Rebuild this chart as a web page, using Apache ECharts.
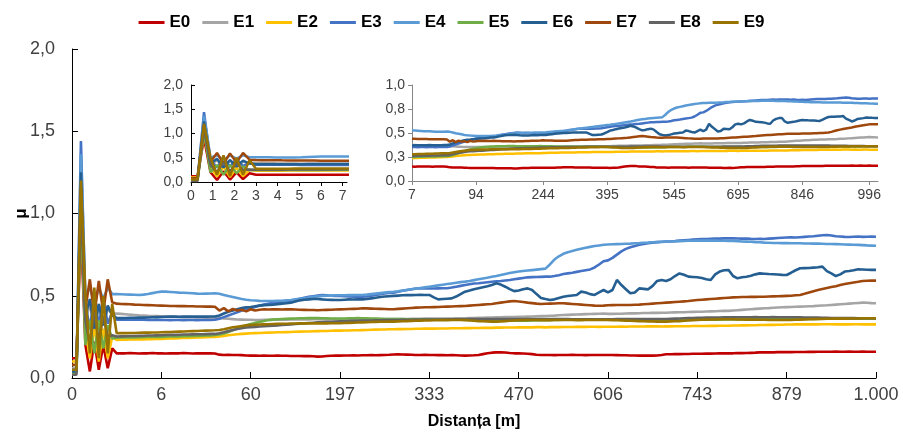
<!DOCTYPE html>
<html><head><meta charset="utf-8">
<script src="https://cdn.jsdelivr.net/npm/echarts@6/dist/echarts.min.js"></script>
<style>html,body{margin:0;padding:0;background:#fff}#c{width:903px;height:438px}</style>
</head><body><div id="c"></div>
<script>
const seriesNames = ['E0','E1','E2','E3','E4','E5','E6','E7','E8','E9'];
const colors = ['#C00000','#A5A5A5','#FFC000','#4472C4','#5B9BD5','#70AD47','#255E91','#9E480E','#636363','#997300'];
const mainTickLabels = ['0','6','60','197','333','470','606','743','879','1.000'];
const insetTickLabels = ['7','94','244','395','545','695','846','996'];
const insetTickIdx = [0,22,45,67,90,112,134,157];
const earlyDist = [0,0.3,0.6,0.9,1.2,1.5,1.8,2.1,2.4,2.7,3.0,3.3,3.6,3.9,4.2,4.5,4.8,5.1,5.4,5.7,6.0,8.7];

const E0 = [0.12,0.12,0.90,0.20,0.04,0.22,0.05,0.20,0.06,0.18,
0.15,0.15,0.15,0.151,0.15,0.149,0.15,0.15,0.151,0.15,
0.15,0.149,0.15,0.15,0.15,0.151,0.15,0.149,0.15,0.15,
0.15,0.15,0.149,0.142,0.14,0.141,0.14,0.14,0.139,0.137,
0.136,0.136,0.135,0.136,0.135,0.135,0.136,0.135,0.135,0.134,
0.134,0.134,0.133,0.134,0.132,0.13,0.131,0.134,0.135,0.136,
0.136,0.137,0.137,0.138,0.137,0.138,0.138,0.139,0.138,0.139,
0.14,0.141,0.143,0.144,0.143,0.142,0.141,0.14,0.14,0.141,
0.14,0.14,0.139,0.139,0.138,0.139,0.138,0.137,0.136,0.137,
0.138,0.14,0.145,0.15,0.154,0.156,0.156,0.155,0.152,0.15,
0.15,0.149,0.147,0.145,0.141,0.14,0.14,0.14,0.139,0.14,
0.14,0.14,0.141,0.14,0.14,0.139,0.14,0.14,0.14,0.14,
0.14,0.14,0.139,0.138,0.138,0.137,0.137,0.136,0.136,0.137,
0.136,0.137,0.14,0.144,0.144,0.145,0.145,0.146,0.146,0.147,
0.147,0.147,0.148,0.148,0.149,0.15,0.15,0.15,0.15,0.151,
0.151,0.152,0.153,0.154,0.156,0.156,0.156,0.156,0.157,0.157,
0.157,0.157,0.158,0.158,0.158,0.159,0.159,0.16,0.16,0.16,
0.16,0.161,0.16,0.16,0.161,0.16,0.16,0.161,0.16,0.16,0.16];

const E1 = [0.06,0.06,1.10,0.35,0.45,0.30,0.45,0.33,0.42,0.39,
0.392,0.39,0.388,0.385,0.383,0.381,0.38,0.378,0.377,0.376,
0.375,0.374,0.373,0.372,0.371,0.37,0.37,0.369,0.368,0.368,
0.367,0.366,0.366,0.365,0.362,0.36,0.358,0.356,0.355,0.354,
0.354,0.353,0.353,0.354,0.354,0.355,0.355,0.354,0.355,0.356,
0.356,0.356,0.357,0.356,0.357,0.357,0.358,0.357,0.357,0.358,
0.357,0.357,0.356,0.357,0.357,0.358,0.357,0.357,0.358,0.358,
0.358,0.358,0.358,0.359,0.359,0.359,0.36,0.36,0.36,0.361,
0.361,0.361,0.362,0.362,0.362,0.362,0.363,0.363,0.363,0.364,
0.365,0.366,0.366,0.367,0.368,0.369,0.369,0.37,0.37,0.371,
0.372,0.372,0.373,0.374,0.375,0.376,0.377,0.378,0.379,0.381,
0.383,0.384,0.385,0.386,0.387,0.388,0.389,0.39,0.391,0.392,
0.39,0.39,0.391,0.391,0.392,0.393,0.393,0.394,0.395,0.395,
0.396,0.396,0.397,0.397,0.398,0.399,0.4,0.4,0.401,0.402,
0.403,0.403,0.404,0.405,0.406,0.407,0.408,0.408,0.41,0.412,
0.414,0.416,0.418,0.42,0.422,0.424,0.425,0.427,0.429,0.43,
0.431,0.432,0.433,0.434,0.435,0.436,0.437,0.439,0.441,0.442,
0.444,0.446,0.448,0.45,0.452,0.454,0.456,0.458,0.457,0.455,0.454];

const E2 = [0.10,0.10,1.00,0.30,0.12,0.32,0.10,0.30,0.12,0.25,
0.232,0.233,0.233,0.234,0.234,0.235,0.235,0.236,0.236,0.237,
0.238,0.239,0.24,0.241,0.242,0.243,0.244,0.245,0.246,0.247,
0.248,0.249,0.25,0.252,0.256,0.26,0.263,0.266,0.268,0.27,
0.272,0.273,0.274,0.275,0.276,0.277,0.278,0.278,0.279,0.28,
0.281,0.282,0.283,0.283,0.284,0.285,0.286,0.286,0.287,0.288,
0.288,0.289,0.289,0.29,0.29,0.291,0.292,0.293,0.294,0.295,
0.295,0.296,0.296,0.297,0.297,0.298,0.298,0.299,0.299,0.3,
0.3,0.3,0.301,0.301,0.301,0.302,0.302,0.302,0.303,0.303,
0.304,0.304,0.305,0.305,0.305,0.306,0.306,0.307,0.307,0.307,
0.308,0.308,0.308,0.308,0.309,0.309,0.308,0.309,0.309,0.309,
0.31,0.31,0.31,0.311,0.311,0.311,0.312,0.312,0.311,0.312,
0.312,0.312,0.312,0.313,0.312,0.313,0.313,0.313,0.313,0.314,
0.314,0.314,0.313,0.314,0.314,0.315,0.315,0.315,0.315,0.316,
0.316,0.316,0.316,0.317,0.317,0.318,0.318,0.318,0.319,0.319,
0.32,0.32,0.321,0.321,0.322,0.322,0.323,0.323,0.324,0.324,
0.325,0.325,0.326,0.326,0.326,0.327,0.326,0.326,0.327,0.327,
0.327,0.326,0.327,0.326,0.326,0.327,0.327,0.326,0.326,0.326,0.326];

const E3 = [0.05,0.05,1.44,0.45,0.30,0.50,0.32,0.48,0.33,0.40,
0.355,0.355,0.354,0.354,0.355,0.354,0.354,0.353,0.353,0.354,
0.353,0.353,0.352,0.353,0.353,0.352,0.353,0.353,0.352,0.353,
0.353,0.353,0.354,0.36,0.37,0.38,0.39,0.4,0.41,0.418,
0.425,0.432,0.44,0.446,0.452,0.455,0.458,0.46,0.463,0.468,
0.475,0.482,0.488,0.493,0.497,0.501,0.504,0.503,0.5,0.499,
0.499,0.497,0.495,0.494,0.494,0.494,0.496,0.5,0.505,0.51,
0.514,0.517,0.519,0.524,0.53,0.535,0.54,0.544,0.545,0.546,
0.545,0.544,0.545,0.546,0.546,0.55,0.555,0.56,0.565,0.57,
0.574,0.576,0.579,0.582,0.585,0.588,0.59,0.593,0.596,0.6,
0.604,0.608,0.612,0.613,0.614,0.615,0.616,0.616,0.62,0.625,
0.632,0.636,0.64,0.645,0.65,0.655,0.66,0.672,0.69,0.71,
0.715,0.73,0.75,0.77,0.785,0.795,0.802,0.81,0.815,0.82,
0.823,0.826,0.828,0.829,0.83,0.832,0.835,0.837,0.839,0.841,
0.843,0.845,0.844,0.846,0.848,0.847,0.849,0.85,0.849,0.848,
0.847,0.848,0.846,0.845,0.846,0.845,0.847,0.849,0.851,0.853,
0.854,0.855,0.854,0.856,0.858,0.86,0.862,0.865,0.868,0.869,
0.866,0.862,0.86,0.858,0.857,0.859,0.86,0.858,0.859,0.86,0.859];

const E4 = [0.04,0.04,1.36,0.50,0.55,0.45,0.55,0.48,0.55,0.51,
0.51,0.509,0.508,0.507,0.506,0.505,0.507,0.511,0.516,0.521,
0.525,0.525,0.523,0.521,0.519,0.518,0.517,0.515,0.513,0.512,
0.513,0.514,0.515,0.512,0.505,0.498,0.492,0.486,0.48,0.476,
0.473,0.471,0.469,0.468,0.468,0.468,0.469,0.47,0.472,0.474,
0.478,0.482,0.485,0.489,0.493,0.497,0.499,0.5,0.501,0.502,
0.503,0.503,0.504,0.504,0.505,0.505,0.507,0.51,0.513,0.516,
0.519,0.522,0.524,0.527,0.531,0.535,0.539,0.543,0.547,0.551,
0.555,0.559,0.563,0.567,0.571,0.575,0.579,0.583,0.586,0.59,
0.595,0.6,0.605,0.61,0.615,0.62,0.626,0.632,0.638,0.643,
0.647,0.65,0.653,0.656,0.659,0.662,0.665,0.69,0.72,0.74,
0.755,0.765,0.772,0.779,0.786,0.792,0.797,0.802,0.806,0.81,
0.812,0.813,0.814,0.815,0.816,0.817,0.819,0.82,0.822,0.823,
0.825,0.826,0.827,0.829,0.83,0.831,0.832,0.833,0.834,0.834,
0.835,0.835,0.836,0.835,0.835,0.834,0.834,0.833,0.833,0.832,
0.83,0.829,0.828,0.826,0.825,0.823,0.822,0.821,0.821,0.82,
0.82,0.819,0.819,0.819,0.818,0.818,0.817,0.817,0.816,0.815,
0.815,0.814,0.813,0.812,0.811,0.81,0.809,0.808,0.806,0.805,0.804];

const E5 = [0.03,0.03,1.05,0.20,0.35,0.15,0.35,0.18,0.32,0.24,
0.245,0.246,0.246,0.247,0.247,0.248,0.248,0.249,0.249,0.25,
0.25,0.251,0.252,0.252,0.253,0.254,0.254,0.255,0.256,0.257,
0.258,0.259,0.261,0.264,0.27,0.28,0.29,0.3,0.31,0.32,
0.328,0.335,0.341,0.347,0.352,0.355,0.357,0.359,0.36,0.361,
0.362,0.363,0.363,0.364,0.364,0.364,0.363,0.363,0.362,0.362,
0.362,0.362,0.363,0.363,0.364,0.363,0.363,0.362,0.361,0.36,
0.359,0.359,0.358,0.358,0.358,0.357,0.357,0.357,0.357,0.357,
0.357,0.357,0.356,0.356,0.356,0.356,0.355,0.355,0.355,0.354,
0.354,0.353,0.353,0.352,0.352,0.351,0.351,0.35,0.35,0.35,
0.349,0.349,0.349,0.35,0.35,0.351,0.352,0.352,0.353,0.353,
0.354,0.354,0.355,0.355,0.356,0.356,0.356,0.357,0.357,0.357,
0.356,0.356,0.355,0.355,0.354,0.354,0.354,0.353,0.353,0.353,
0.353,0.353,0.353,0.353,0.353,0.353,0.354,0.354,0.354,0.354,
0.354,0.355,0.355,0.355,0.355,0.355,0.356,0.356,0.356,0.356,
0.356,0.356,0.357,0.357,0.357,0.357,0.357,0.358,0.358,0.358,
0.358,0.358,0.358,0.359,0.359,0.359,0.359,0.359,0.36,0.36,
0.36,0.36,0.36,0.36,0.36,0.361,0.361,0.361,0.361,0.361,0.361];

const E6 = [0.04,0.04,1.25,0.38,0.48,0.30,0.45,0.32,0.44,0.38,
0.364,0.364,0.365,0.366,0.366,0.367,0.367,0.368,0.369,0.37,
0.371,0.372,0.373,0.373,0.372,0.373,0.374,0.373,0.373,0.373,
0.373,0.374,0.374,0.38,0.392,0.403,0.41,0.418,0.425,0.43,
0.432,0.436,0.44,0.443,0.444,0.445,0.449,0.452,0.454,0.458,
0.465,0.472,0.476,0.478,0.48,0.481,0.478,0.476,0.475,0.474,
0.474,0.476,0.478,0.477,0.479,0.478,0.48,0.484,0.488,0.492,
0.495,0.497,0.499,0.501,0.503,0.505,0.504,0.505,0.506,0.505,
0.505,0.49,0.478,0.48,0.482,0.484,0.495,0.51,0.525,0.532,
0.54,0.546,0.552,0.558,0.565,0.576,0.568,0.555,0.54,0.528,
0.532,0.54,0.545,0.535,0.51,0.487,0.48,0.474,0.478,0.486,
0.494,0.498,0.502,0.505,0.525,0.52,0.51,0.505,0.52,0.535,
0.52,0.535,0.596,0.565,0.54,0.515,0.52,0.545,0.542,0.539,
0.56,0.59,0.596,0.59,0.6,0.62,0.636,0.628,0.616,0.614,
0.612,0.608,0.6,0.596,0.63,0.647,0.655,0.657,0.62,0.606,
0.612,0.616,0.622,0.63,0.636,0.634,0.632,0.631,0.629,0.627,
0.626,0.64,0.655,0.667,0.668,0.669,0.671,0.673,0.677,0.65,
0.636,0.62,0.63,0.647,0.65,0.655,0.661,0.66,0.658,0.657,0.657];

const E7 = [0.08,0.08,1.15,0.42,0.60,0.38,0.59,0.40,0.60,0.46,
0.452,0.45,0.449,0.448,0.446,0.445,0.444,0.443,0.442,0.441,
0.44,0.439,0.438,0.438,0.437,0.437,0.436,0.436,0.435,0.435,
0.434,0.434,0.433,0.41,0.425,0.405,0.42,0.41,0.415,0.405,
0.418,0.41,0.415,0.418,0.416,0.418,0.417,0.416,0.418,0.417,
0.416,0.415,0.414,0.413,0.413,0.412,0.413,0.414,0.415,0.416,
0.417,0.418,0.419,0.42,0.421,0.424,0.423,0.422,0.421,0.42,
0.419,0.418,0.418,0.42,0.422,0.424,0.426,0.428,0.429,0.43,
0.43,0.431,0.432,0.433,0.434,0.435,0.436,0.437,0.438,0.44,
0.442,0.444,0.446,0.448,0.45,0.454,0.458,0.462,0.466,0.468,
0.465,0.462,0.458,0.455,0.452,0.45,0.451,0.452,0.453,0.454,
0.454,0.452,0.45,0.448,0.446,0.444,0.442,0.44,0.439,0.44,
0.442,0.443,0.444,0.444,0.444,0.444,0.445,0.446,0.448,0.45,
0.452,0.454,0.456,0.458,0.46,0.462,0.464,0.466,0.468,0.471,
0.474,0.476,0.478,0.48,0.482,0.484,0.486,0.488,0.49,0.491,
0.492,0.492,0.493,0.493,0.494,0.494,0.495,0.496,0.497,0.498,
0.499,0.5,0.503,0.505,0.512,0.52,0.528,0.535,0.541,0.547,
0.553,0.558,0.565,0.571,0.576,0.581,0.585,0.59,0.591,0.592,0.592];

const E8 = [0.02,0.02,1.10,0.35,0.20,0.40,0.22,0.38,0.25,0.26,
0.252,0.253,0.254,0.255,0.255,0.256,0.257,0.258,0.258,0.259,
0.26,0.261,0.262,0.262,0.263,0.264,0.264,0.265,0.266,0.266,
0.267,0.268,0.268,0.272,0.278,0.285,0.292,0.298,0.303,0.307,
0.309,0.311,0.313,0.315,0.316,0.318,0.32,0.322,0.324,0.326,
0.328,0.33,0.332,0.334,0.336,0.338,0.34,0.341,0.342,0.343,
0.344,0.345,0.346,0.347,0.348,0.349,0.35,0.35,0.351,0.351,
0.352,0.352,0.353,0.353,0.354,0.354,0.354,0.355,0.355,0.355,
0.356,0.356,0.356,0.356,0.357,0.357,0.357,0.357,0.357,0.358,
0.358,0.358,0.358,0.358,0.358,0.359,0.359,0.359,0.359,0.359,
0.359,0.359,0.359,0.359,0.359,0.359,0.358,0.358,0.358,0.358,
0.358,0.358,0.357,0.357,0.357,0.357,0.357,0.357,0.357,0.357,
0.357,0.357,0.358,0.358,0.358,0.358,0.358,0.359,0.359,0.359,
0.359,0.359,0.359,0.359,0.36,0.361,0.362,0.363,0.364,0.365,
0.366,0.366,0.367,0.367,0.368,0.368,0.369,0.369,0.369,0.369,
0.369,0.369,0.369,0.37,0.369,0.369,0.369,0.37,0.369,0.369,
0.369,0.369,0.369,0.369,0.368,0.368,0.367,0.367,0.366,0.366,
0.365,0.365,0.365,0.364,0.364,0.364,0.363,0.363,0.363,0.363,0.363];

const E9 = [0.05,0.05,1.20,0.50,0.15,0.55,0.12,0.50,0.15,0.45,
0.272,0.273,0.273,0.274,0.274,0.275,0.276,0.276,0.277,0.277,
0.278,0.279,0.28,0.281,0.282,0.283,0.284,0.285,0.286,0.287,
0.288,0.289,0.29,0.292,0.296,0.302,0.308,0.312,0.316,0.32,
0.322,0.324,0.325,0.326,0.327,0.328,0.329,0.33,0.33,0.331,
0.331,0.332,0.332,0.332,0.332,0.333,0.332,0.332,0.333,0.333,
0.333,0.334,0.335,0.336,0.337,0.338,0.339,0.34,0.341,0.342,
0.342,0.343,0.343,0.344,0.345,0.346,0.347,0.348,0.349,0.35,
0.35,0.351,0.351,0.352,0.352,0.353,0.353,0.353,0.352,0.35,
0.348,0.346,0.345,0.344,0.343,0.343,0.344,0.346,0.348,0.35,
0.351,0.352,0.353,0.353,0.353,0.352,0.352,0.352,0.353,0.353,
0.353,0.353,0.353,0.352,0.352,0.353,0.353,0.353,0.353,0.353,
0.353,0.352,0.351,0.35,0.349,0.348,0.347,0.346,0.345,0.344,
0.344,0.343,0.343,0.343,0.344,0.345,0.346,0.348,0.35,0.352,
0.353,0.354,0.355,0.356,0.356,0.357,0.357,0.357,0.357,0.356,
0.356,0.355,0.355,0.354,0.354,0.354,0.353,0.353,0.353,0.353,
0.353,0.353,0.354,0.355,0.356,0.357,0.358,0.359,0.359,0.36,
0.36,0.361,0.361,0.361,0.362,0.362,0.362,0.363,0.363,0.363,0.363];

const allData = [E0,E1,E2,E3,E4,E5,E6,E7,E8,E9];
const FONT = '"Liberation Sans", Arial, sans-serif';
const TXT = '#404040';
const fmt1 = v => v.toFixed(1).replace('.', ',');
const mainCats = E0.map((_, i) => String(i));
const insetStart = 20;
const insetCats = mainCats.slice(insetStart);

const series = [];
allData.forEach((d, k) => {
  series.push({name: seriesNames[k], type: 'line', xAxisIndex: 0, yAxisIndex: 0, data: d,
    symbol: 'none', color: colors[k], lineStyle: {width: 2.6}, animation: false});
});
allData.forEach((d, k) => {
  series.push({name: seriesNames[k], type: 'line', xAxisIndex: 1, yAxisIndex: 1,
    data: earlyDist.map((x, i) => [x, d[i]]),
    symbol: 'none', color: colors[k], lineStyle: {width: 2.5}, animation: false});
});
allData.forEach((d, k) => {
  series.push({name: seriesNames[k], type: 'line', xAxisIndex: 2, yAxisIndex: 2, data: d.slice(insetStart),
    symbol: 'none', color: colors[k], lineStyle: {width: 2.5}, animation: false});
});

const chart = echarts.init(document.getElementById('c'), null, {renderer: 'canvas'});
chart.setOption({
  animation: false,
  backgroundColor: '#fff',
  textStyle: {fontFamily: FONT},
  legend: {
    data: seriesNames, top: 9, left: 'center', icon: 'rect', itemWidth: 26, itemHeight: 3, itemGap: 12,
    textStyle: {fontFamily: FONT, fontSize: 17, fontWeight: 'bold', color: '#000'}
  },
  grid: [
    {left: 72, top: 49, right: 27, bottom: 60, outerBoundsMode: 'none', containLabel: false},
    {left: 191, top: 85, right: 556, bottom: 256, outerBoundsMode: 'none', containLabel: false},
    {left: 412, top: 85, right: 25, bottom: 257, outerBoundsMode: 'none', containLabel: false}
  ],
  xAxis: [
    {type: 'category', gridIndex: 0, data: mainCats, boundaryGap: false,
      name: 'Distanța [m]', nameLocation: 'middle', nameGap: 36,
      nameTextStyle: {fontFamily: FONT, fontSize: 16, fontWeight: 'bold', color: '#000'},
      axisLine: {lineStyle: {color: '#000', width: 1}},
      axisTick: {inside: true, length: 6, interval: i => i % 20 === 0, lineStyle: {color: '#000'}},
      axisLabel: {interval: i => i % 20 === 0, formatter: (v, i) => mainTickLabels[i / 20],
        fontSize: 18, color: TXT, margin: 8, fontFamily: FONT}
    },
    {type: 'value', gridIndex: 1, min: 0, max: 7.2, interval: 1,
      axisLine: {lineStyle: {color: '#000'}},
      axisTick: {length: 4, lineStyle: {color: '#000'}},
      splitLine: {show: false},
      axisLabel: {showMaxLabel: false, formatter: v => Number.isInteger(v) ? String(v) : '',
        fontSize: 14, color: TXT, margin: 7, fontFamily: FONT}
    },
    {type: 'category', gridIndex: 2, data: insetCats, boundaryGap: false,
      axisLine: {lineStyle: {color: '#868686'}},
      axisTick: {length: 4, interval: i => insetTickIdx.includes(i), lineStyle: {color: '#868686'}},
      axisLabel: {interval: i => insetTickIdx.includes(i),
        formatter: (v, i) => insetTickLabels[insetTickIdx.indexOf(i)],
        fontSize: 14, color: TXT, margin: 7, fontFamily: FONT}
    }
  ],
  yAxis: [
    {type: 'value', gridIndex: 0, min: 0, max: 2, interval: 0.5,
      name: 'μ', nameLocation: 'middle', nameGap: 42, nameRotate: 90, nameMoveOverlap: false,
      nameTextStyle: {fontFamily: FONT, fontSize: 17, fontWeight: 'bold', color: '#000'},
      axisLine: {show: true, lineStyle: {color: '#000'}},
      axisTick: {show: true, inside: true, length: 6, lineStyle: {color: '#000'}},
      splitLine: {show: false},
      axisLabel: {formatter: fmt1, fontSize: 18, color: TXT, margin: 17, fontFamily: FONT}
    },
    {type: 'value', gridIndex: 1, min: 0, max: 2, interval: 0.5,
      axisLine: {show: true, lineStyle: {color: '#000'}},
      axisTick: {show: true, inside: true, length: 4, lineStyle: {color: '#000'}},
      splitLine: {show: false},
      axisLabel: {formatter: fmt1, fontSize: 14, color: TXT, margin: 8, fontFamily: FONT}
    },
    {type: 'value', gridIndex: 2, min: 0, max: 1, interval: 0.25,
      axisLine: {show: true, lineStyle: {color: '#868686'}},
      axisTick: {show: true, length: 4, lineStyle: {color: '#868686'}},
      splitLine: {show: false},
      axisLabel: {formatter: fmt1, fontSize: 14, color: TXT, margin: 7, fontFamily: FONT}
    }
  ],
  series: series
});
</script>
</body></html>
